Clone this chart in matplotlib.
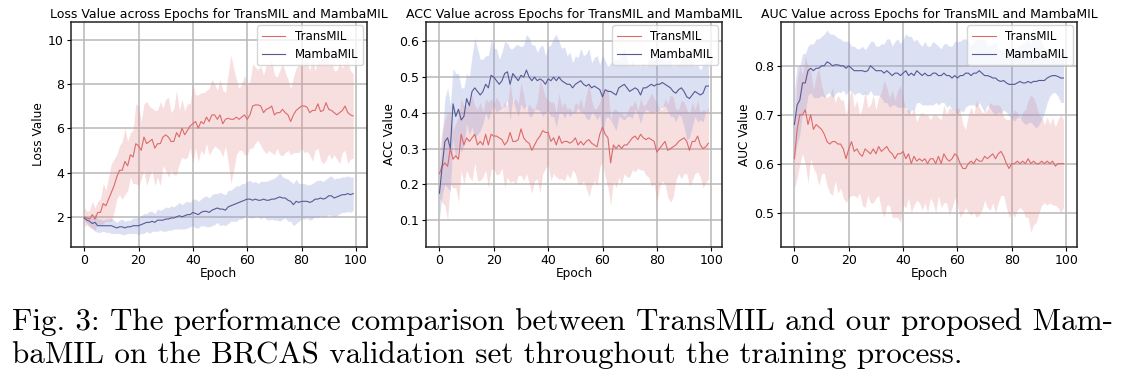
import numpy as np
import matplotlib
matplotlib.use("Agg")
import matplotlib.pyplot as plt

epochs = np.arange(100)

# ---- Loss ----
loss_trans_mean = [2.0, 1.95, 1.9, 2.1, 1.9, 2.2, 2.2, 2.6, 2.5, 2.8,
                   3.1, 3.4, 3.8, 4.1, 4.1, 4.5, 4.3, 4.8, 4.7, 5.3,
                   5.2, 5.0, 5.6, 5.3, 5.4, 5.5, 5.1, 5.3, 5.3, 5.6,
                   5.7, 5.6, 5.4, 5.4, 5.8, 5.6, 6.0, 5.7, 5.9, 6.1,
                   6.2, 6.3, 6.0, 6.3, 6.2, 6.5, 6.3, 6.6, 6.6, 6.4,
                   6.6, 6.2, 6.4, 6.45, 6.4, 6.4, 6.5, 6.4, 6.5, 6.6,
                   6.4, 6.6, 7.0, 7.05, 7.05, 7.0, 6.7, 6.85, 6.9, 7.0,
                   6.6, 6.7, 6.7, 6.85, 6.7, 6.6, 6.3, 6.6, 6.8, 6.9,
                   7.0, 7.0, 6.95, 6.7, 6.8, 6.8, 7.1, 6.75, 6.8, 7.15,
                   6.85, 6.8, 6.7, 6.6, 6.7, 6.8, 7.0, 6.7, 6.6, 6.55]
loss_trans_std = [0.45, 0.3, 0.4, 0.6, 0.5, 0.5, 0.6, 0.9, 0.7, 1.0,
                  1.3, 1.2, 1.0, 1.1, 1.3, 1.5, 1.1, 1.0, 1.2, 1.8,
                  1.8, 1.3, 1.5, 1.9, 1.6, 1.4, 1.7, 1.5, 1.9, 1.3,
                  1.6, 1.8, 1.3, 1.5, 1.9, 1.2, 1.3, 1.1, 1.2, 1.0,
                  1.8, 1.2, 1.5, 1.3, 1.4, 1.2, 1.5, 1.6, 1.4, 1.3,
                  1.6, 1.5, 1.2, 2.0, 2.9, 2.3, 1.7, 1.4, 1.5, 1.8,
                  1.6, 1.5, 1.9, 1.7, 1.6, 1.8, 1.7, 2.0, 1.9, 2.1,
                  1.8, 1.6, 1.9, 2.1, 1.8, 1.6, 1.5, 1.7, 1.9, 2.0,
                  1.9, 2.1, 2.0, 1.9, 2.3, 1.8, 2.0, 2.2, 2.4, 2.6,
                  2.0, 2.2, 1.9, 2.0, 2.3, 1.9, 2.0, 2.3, 2.0, 1.9]
loss_mamba_mean = [1.95, 1.85, 1.8, 1.7, 1.75, 1.6, 1.6, 1.6, 1.6, 1.6,
                   1.6, 1.55, 1.5, 1.55, 1.55, 1.5, 1.55, 1.55, 1.6, 1.6,
                   1.6, 1.65, 1.7, 1.75, 1.75, 1.8, 1.75, 1.85, 1.85, 1.85,
                   1.9, 1.9, 1.95, 1.95, 2.0, 2.05, 2.0, 2.05, 2.1, 2.1,
                   2.2, 2.15, 2.1, 2.2, 2.25, 2.25, 2.2, 2.3, 2.35, 2.4,
                   2.35, 2.35, 2.3, 2.45, 2.5, 2.55, 2.6, 2.65, 2.7, 2.75,
                   2.8, 2.8, 2.75, 2.8, 2.75, 2.75, 2.8, 2.75, 2.75, 2.8,
                   2.8, 2.85, 2.9, 2.85, 2.85, 2.75, 2.7, 2.55, 2.7, 2.65,
                   2.7, 2.7, 2.7, 2.65, 2.7, 2.8, 2.8, 2.85, 2.8, 2.85,
                   2.95, 2.95, 2.85, 2.9, 2.95, 3.0, 3.0, 3.05, 3.0, 3.05]
loss_mamba_std = [0.1, 0.15, 0.2, 0.25, 0.4, 0.3, 0.3, 0.25, 0.3, 0.3,
                  0.35, 0.3, 0.25, 0.3, 0.35, 0.3, 0.3, 0.3, 0.35, 0.35,
                  0.4, 0.4, 0.45, 0.4, 0.5, 0.45, 0.4, 0.5, 0.45, 0.5,
                  0.55, 0.5, 0.55, 0.5, 0.55, 0.6, 0.55, 0.6, 0.6, 0.55,
                  0.6, 0.65, 0.6, 0.6, 0.65, 0.7, 0.65, 0.7, 0.7, 0.65,
                  0.75, 0.7, 0.7, 0.75, 0.7, 0.75, 0.8, 0.75, 0.8, 0.75,
                  0.8, 0.85, 0.8, 0.8, 0.75, 0.85, 0.8, 0.85, 0.9, 0.9,
                  0.95, 1.0, 1.1, 0.95, 0.9, 0.95, 0.9, 0.95, 1.0, 0.85,
                  0.8, 0.8, 0.75, 0.8, 0.8, 0.8, 0.85, 0.8, 0.8, 0.85,
                  0.85, 0.9, 0.85, 0.85, 0.8, 0.8, 0.8, 0.8, 0.8, 0.75]

# ---- ACC ----
acc_trans_mean = [0.23, 0.25, 0.26, 0.25, 0.3, 0.27, 0.28, 0.27, 0.34, 0.31,
                  0.33, 0.32, 0.33, 0.34, 0.31, 0.32, 0.31, 0.34, 0.31, 0.34,
                  0.335, 0.335, 0.33, 0.325, 0.31, 0.32, 0.345, 0.32, 0.32, 0.325,
                  0.355, 0.33, 0.32, 0.315, 0.295, 0.31, 0.325, 0.335, 0.35, 0.345,
                  0.345, 0.32, 0.33, 0.31, 0.335, 0.315, 0.32, 0.32, 0.315, 0.32,
                  0.33, 0.31, 0.32, 0.31, 0.32, 0.325, 0.315, 0.31, 0.305, 0.34,
                  0.36, 0.34, 0.33, 0.26, 0.31, 0.3, 0.31, 0.3, 0.31, 0.31,
                  0.32, 0.33, 0.335, 0.325, 0.34, 0.33, 0.325, 0.33, 0.325, 0.32,
                  0.29, 0.3, 0.31, 0.32, 0.295, 0.3, 0.305, 0.31, 0.32, 0.325,
                  0.33, 0.32, 0.295, 0.32, 0.32, 0.335, 0.31, 0.3, 0.305, 0.315]
acc_trans_std = [0.07, 0.1, 0.12, 0.15, 0.1, 0.08, 0.09, 0.12, 0.1, 0.11,
                 0.09, 0.1, 0.12, 0.08, 0.1, 0.11, 0.09, 0.1, 0.12, 0.1,
                 0.09, 0.11, 0.1, 0.08, 0.12, 0.1, 0.14, 0.11, 0.12, 0.1,
                 0.13, 0.12, 0.09, 0.11, 0.12, 0.1, 0.11, 0.16, 0.12, 0.1,
                 0.09, 0.11, 0.1, 0.09, 0.12, 0.1, 0.11, 0.09, 0.1, 0.08,
                 0.1, 0.11, 0.12, 0.1, 0.13, 0.16, 0.12, 0.1, 0.11, 0.09,
                 0.1, 0.12, 0.14, 0.12, 0.1, 0.11, 0.09, 0.1, 0.08, 0.09,
                 0.1, 0.09, 0.1, 0.08, 0.1, 0.09, 0.1, 0.11, 0.13, 0.12,
                 0.14, 0.11, 0.1, 0.12, 0.13, 0.15, 0.14, 0.1, 0.09, 0.11,
                 0.1, 0.09, 0.1, 0.11, 0.09, 0.1, 0.09, 0.11, 0.1, 0.1]
acc_mamba_mean = [0.175, 0.25, 0.32, 0.33, 0.3, 0.425, 0.39, 0.41, 0.38, 0.39,
                  0.44, 0.42, 0.46, 0.47, 0.46, 0.45, 0.46, 0.48, 0.47, 0.505,
                  0.5, 0.49, 0.48, 0.49, 0.51, 0.515, 0.48, 0.51, 0.5, 0.49,
                  0.505, 0.5, 0.52, 0.5, 0.49, 0.5, 0.49, 0.495, 0.49, 0.48,
                  0.495, 0.49, 0.5, 0.49, 0.5, 0.49, 0.485, 0.48, 0.48, 0.47,
                  0.48, 0.485, 0.49, 0.48, 0.475, 0.48, 0.47, 0.475, 0.47, 0.465,
                  0.445, 0.465, 0.46, 0.46, 0.455, 0.45, 0.47, 0.475, 0.48, 0.47,
                  0.46, 0.465, 0.47, 0.465, 0.45, 0.47, 0.47, 0.475, 0.48, 0.475,
                  0.48, 0.48, 0.485, 0.48, 0.475, 0.47, 0.46, 0.455, 0.465, 0.47,
                  0.46, 0.445, 0.44, 0.45, 0.46, 0.455, 0.45, 0.455, 0.475, 0.475]
acc_mamba_std = [0.07, 0.08, 0.12, 0.14, 0.12, 0.1, 0.12, 0.1, 0.09, 0.08,
                 0.07, 0.08, 0.1, 0.14, 0.12, 0.1, 0.09, 0.08, 0.09, 0.1,
                 0.08, 0.09, 0.07, 0.08, 0.09, 0.08, 0.1, 0.07, 0.09, 0.1,
                 0.08, 0.09, 0.1, 0.11, 0.1, 0.09, 0.08, 0.09, 0.1, 0.08,
                 0.09, 0.1, 0.11, 0.13, 0.1, 0.09, 0.1, 0.08, 0.09, 0.07,
                 0.08, 0.07, 0.09, 0.08, 0.09, 0.1, 0.07, 0.08, 0.09, 0.07,
                 0.12, 0.08, 0.07, 0.08, 0.09, 0.1, 0.08, 0.09, 0.1, 0.08,
                 0.07, 0.08, 0.06, 0.07, 0.08, 0.07, 0.06, 0.07, 0.08, 0.07,
                 0.08, 0.07, 0.07, 0.06, 0.07, 0.08, 0.07, 0.08, 0.07, 0.08,
                 0.1, 0.12, 0.11, 0.09, 0.07, 0.08, 0.07, 0.08, 0.07, 0.07]

# ---- AUC ----
auc_trans_mean = [0.61, 0.67, 0.7, 0.7, 0.71, 0.68, 0.7, 0.67, 0.68, 0.675,
                  0.67, 0.66, 0.645, 0.64, 0.645, 0.645, 0.64, 0.64, 0.63, 0.61,
                  0.63, 0.645, 0.625, 0.63, 0.62, 0.615, 0.63, 0.625, 0.62, 0.63,
                  0.62, 0.635, 0.625, 0.63, 0.635, 0.625, 0.62, 0.61, 0.62, 0.62,
                  0.625, 0.61, 0.62, 0.6, 0.615, 0.605, 0.61, 0.605, 0.61, 0.6,
                  0.61, 0.61, 0.6, 0.615, 0.6, 0.62, 0.61, 0.605, 0.61, 0.62,
                  0.615, 0.6, 0.59, 0.59, 0.6, 0.605, 0.6, 0.61, 0.605, 0.605,
                  0.615, 0.61, 0.615, 0.62, 0.61, 0.62, 0.625, 0.615, 0.6, 0.59,
                  0.6, 0.6, 0.605, 0.6, 0.605, 0.6, 0.61, 0.6, 0.605, 0.6,
                  0.6, 0.605, 0.6, 0.605, 0.6, 0.605, 0.595, 0.6, 0.6, 0.6]
auc_trans_std = [0.06, 0.1, 0.1, 0.08, 0.11, 0.12, 0.09, 0.08, 0.1, 0.12,
                 0.09, 0.08, 0.09, 0.1, 0.11, 0.08, 0.1, 0.09, 0.1, 0.09,
                 0.1, 0.11, 0.09, 0.1, 0.08, 0.1, 0.12, 0.09, 0.1, 0.11,
                 0.09, 0.1, 0.12, 0.14, 0.12, 0.11, 0.13, 0.12, 0.13, 0.14,
                 0.11, 0.1, 0.09, 0.1, 0.1, 0.08, 0.09, 0.1, 0.09, 0.1,
                 0.08, 0.09, 0.1, 0.08, 0.09, 0.1, 0.09, 0.11, 0.1, 0.09,
                 0.1, 0.11, 0.09, 0.08, 0.1, 0.11, 0.1, 0.12, 0.11, 0.1,
                 0.09, 0.1, 0.11, 0.1, 0.11, 0.1, 0.09, 0.08, 0.09, 0.1,
                 0.1, 0.11, 0.1, 0.09, 0.1, 0.11, 0.12, 0.14, 0.13, 0.12,
                 0.1, 0.09, 0.08, 0.09, 0.08, 0.09, 0.08, 0.09, 0.1, 0.09]
auc_mamba_mean = [0.68, 0.72, 0.73, 0.765, 0.765, 0.79, 0.795, 0.79, 0.795, 0.795,
                  0.8, 0.8, 0.808, 0.805, 0.8, 0.802, 0.802, 0.8, 0.8, 0.795,
                  0.8, 0.795, 0.79, 0.79, 0.79, 0.79, 0.788, 0.79, 0.8, 0.795,
                  0.79, 0.79, 0.79, 0.785, 0.79, 0.785, 0.78, 0.785, 0.785, 0.78,
                  0.785, 0.79, 0.78, 0.785, 0.78, 0.79, 0.785, 0.78, 0.785, 0.78,
                  0.78, 0.785, 0.785, 0.78, 0.78, 0.785, 0.78, 0.78, 0.775, 0.78,
                  0.775, 0.78, 0.78, 0.785, 0.785, 0.78, 0.785, 0.785, 0.79, 0.785,
                  0.78, 0.78, 0.778, 0.775, 0.775, 0.77, 0.768, 0.77, 0.765, 0.762,
                  0.762, 0.762, 0.765, 0.768, 0.765, 0.765, 0.768, 0.765, 0.768, 0.768,
                  0.77, 0.77, 0.77, 0.775, 0.778, 0.78, 0.78, 0.778, 0.775, 0.775]
auc_mamba_std = [0.07, 0.08, 0.07, 0.06, 0.06, 0.05, 0.05, 0.055, 0.06, 0.06,
                 0.06, 0.065, 0.065, 0.06, 0.065, 0.06, 0.055, 0.055, 0.05, 0.055,
                 0.05, 0.045, 0.05, 0.045, 0.045, 0.05, 0.045, 0.05, 0.05, 0.055,
                 0.05, 0.05, 0.055, 0.06, 0.065, 0.07, 0.06, 0.065, 0.07, 0.065,
                 0.07, 0.075, 0.08, 0.075, 0.07, 0.065, 0.06, 0.06, 0.065, 0.06,
                 0.06, 0.065, 0.06, 0.06, 0.055, 0.06, 0.065, 0.06, 0.065, 0.07,
                 0.075, 0.07, 0.075, 0.07, 0.065, 0.06, 0.065, 0.07, 0.065, 0.07,
                 0.075, 0.06, 0.065, 0.07, 0.075, 0.065, 0.065, 0.06, 0.06, 0.065,
                 0.07, 0.075, 0.07, 0.075, 0.08, 0.085, 0.085, 0.08, 0.09, 0.095,
                 0.09, 0.08, 0.065, 0.05, 0.04, 0.035, 0.035, 0.04, 0.05, 0.05]

panels = [
    ("Loss Value across Epochs for TransMIL and MambaMIL", "Loss Value",
     loss_trans_mean, loss_trans_std, loss_mamba_mean, loss_mamba_std,
     (0.65, 10.8), [2, 4, 6, 8, 10]),
    ("ACC Value across Epochs for TransMIL and MambaMIL", "ACC Value",
     acc_trans_mean, acc_trans_std, acc_mamba_mean, acc_mamba_std,
     (0.025, 0.655), [0.1, 0.2, 0.3, 0.4, 0.5, 0.6]),
    ("AUC Value across Epochs for TransMIL and MambaMIL", "AUC Value",
     auc_trans_mean, auc_trans_std, auc_mamba_mean, auc_mamba_std,
     (0.43, 0.89), [0.5, 0.6, 0.7, 0.8]),
]

c_trans = '#dc6a6a'
c_mamba = '#565a92'
f_trans = '#e88c8c'
f_mamba = '#8e9ad8'

fig = plt.figure(figsize=(11.24, 3.82), dpi=100)
lefts = [0.0629, 0.379, 0.6948]

for i, (tit, ylab, tm, ts, mm, ms, ylim, yt) in enumerate(panels):
    ax = fig.add_axes([lefts[i], 0.354, 0.2633, 0.589])
    tm = np.array(tm); ts = np.array(ts)
    mm = np.array(mm); ms = np.array(ms)

    ax.plot(epochs, tm, color=c_trans, lw=0.8, label='TransMIL', zorder=3)
    ax.fill_between(epochs, tm - ts, tm + ts, color=f_trans, alpha=0.28, lw=0)
    ax.plot(epochs, mm, color=c_mamba, lw=0.8, label='MambaMIL', zorder=3)
    ax.fill_between(epochs, mm - ms, mm + ms, color=f_mamba, alpha=0.3, lw=0)

    ax.set_ylim(*ylim)
    ax.set_yticks(yt)
    ax.set_xticks([0, 20, 40, 60, 80, 100])
    ax.grid(True, color='#b8b8b8', lw=1.1)
    ax.set_axisbelow(True)
    for sp in ax.spines.values():
        sp.set_linewidth(1.1)
        sp.set_color('#222222')
    ax.tick_params(labelsize=9, length=3, pad=2)
    ax.set_xlabel("Epoch", fontsize=8.7, labelpad=0)
    ax.set_ylabel(ylab, fontsize=8.7, labelpad=2)
    ax.set_title(tit, fontsize=9.0, pad=3)
    ax.legend(loc='upper right', fontsize=8.5, framealpha=0.8,
              borderpad=0.4, labelspacing=0.4, handlelength=2.0,
              borderaxespad=0.3, fancybox=True)

cap_font = dict(family='cmr10', fontsize=22.4)
fig.text(0.0107, 1 - 322 / 382, "Fig. 3: The performance comparison between TransMIL and our proposed Mam-",
         va='center', ha='left', **cap_font)
fig.text(0.0107, 1 - 355 / 382, "baMIL on the BRCAS validation set throughout the training process.",
         va='center', ha='left', **cap_font)

plt.savefig("out.png", dpi=100)
